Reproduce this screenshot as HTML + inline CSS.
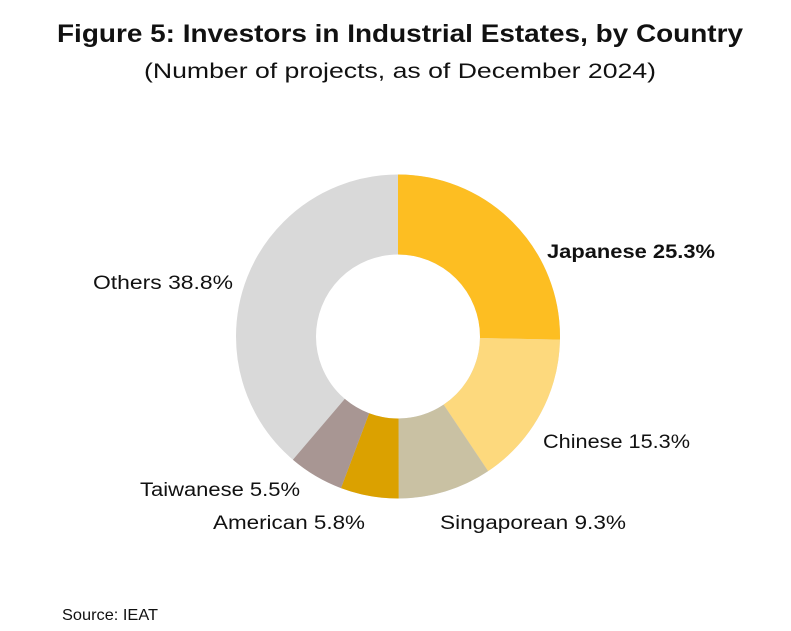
<!DOCTYPE html>
<html><head><meta charset="utf-8"><style>
html,body{margin:0;padding:0;background:#fff;}
svg{display:block;}
text{font-family:"Liberation Sans",sans-serif;fill:#111;}
</style></head><body>
<svg width="791" height="631" viewBox="0 0 791 631" xmlns="http://www.w3.org/2000/svg">
<text x="400" y="42" text-anchor="middle" font-size="25" font-weight="bold" textLength="686" lengthAdjust="spacingAndGlyphs">Figure 5: Investors in Industrial Estates, by Country</text>
<text x="400" y="78" text-anchor="middle" font-size="21" fill="#222" textLength="512" lengthAdjust="spacingAndGlyphs">(Number of projects, as of December 2024)</text>
<g transform="translate(398,336.5) rotate(-90)" fill="none" stroke-width="80">
<circle r="122" stroke="#D9D9D9" stroke-dasharray="766.6 0"/>
<circle r="122" stroke="#FDBE22" stroke-dasharray="193.9 600" stroke-dashoffset="0"/>
<circle r="122" stroke="#FDD97D" stroke-dasharray="117.3 700" stroke-dashoffset="-193.9"/>
<circle r="122" stroke="#C9C1A3" stroke-dasharray="71.3 700" stroke-dashoffset="-311.2"/>
<circle r="122" stroke="#DBA100" stroke-dasharray="44.5 700" stroke-dashoffset="-382.5"/>
<circle r="122" stroke="#A89693" stroke-dasharray="42.2 700" stroke-dashoffset="-427.0"/>
</g>
<g font-size="19">
<text x="547" y="258" font-weight="bold" textLength="168" lengthAdjust="spacingAndGlyphs">Japanese 25.3%</text>
<text x="93" y="289" textLength="140" lengthAdjust="spacingAndGlyphs">Others 38.8%</text>
<text x="543" y="448" textLength="147" lengthAdjust="spacingAndGlyphs">Chinese 15.3%</text>
<text x="140" y="496" textLength="160" lengthAdjust="spacingAndGlyphs">Taiwanese 5.5%</text>
<text x="213" y="529" textLength="152" lengthAdjust="spacingAndGlyphs">American 5.8%</text>
<text x="440" y="529" textLength="186" lengthAdjust="spacingAndGlyphs">Singaporean 9.3%</text>
</g>
<text x="62" y="620" font-size="16" fill="#444" textLength="96" lengthAdjust="spacingAndGlyphs">Source: IEAT</text>
</svg>
</body></html>
